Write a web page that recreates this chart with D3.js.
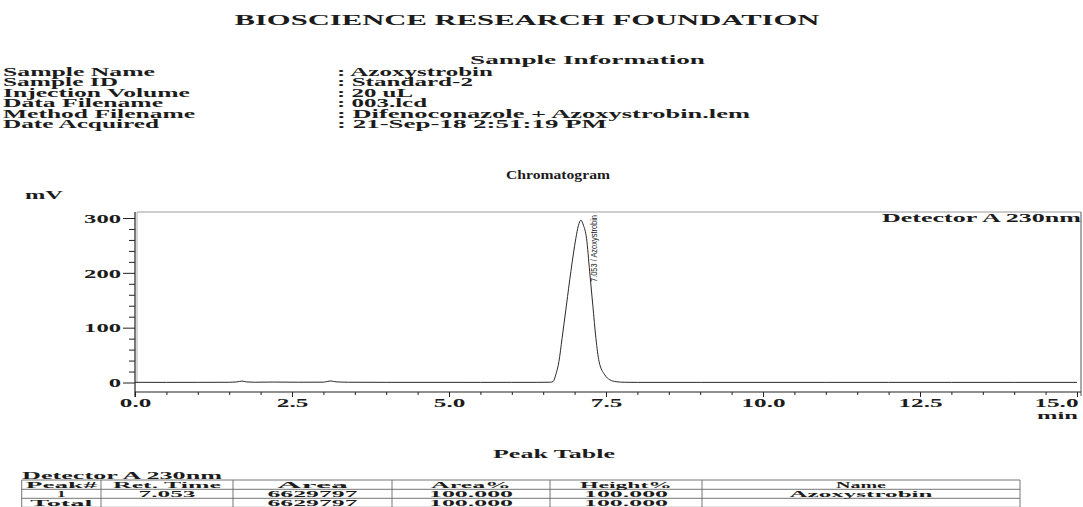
<!DOCTYPE html>
<html lang="en">
<head>
<meta charset="UTF-8">
<title>Chromatogram - Azoxystrobin Standard-2</title>
<script src="https://d3js.org/d3.v7.min.js"></script>
<style>
  body { margin: 0; background: #fff; }
  svg { display: block; }
  text { font-family: "Liberation Serif", "Times New Roman", serif; font-weight: bold; fill: #1c1c1c; }
  .peak-label { font-family: "Liberation Sans Narrow", "Liberation Sans", Arial, sans-serif; font-weight: normal; }
  .axis path { display: none; }
  .axis line { stroke: #222; }
</style>
</head>
<body>
<svg width="1083" height="507"></svg>
<script>
// sample information block
const infoLabels = ["Sample Name", "Sample ID", "Injection Volume", "Data Filename", "Method Filename", "Date Acquired"];
const infoValues = ["Azoxystrobin", "Standard-2", "20 uL", "003.lcd", "Difenoconazole + Azoxystrobin.lem", "21-Sep-18 2:51:19 PM"];

// trace: retention time (min) and signal (mV)
const retTime = [0.0, 0.5, 1.0, 1.5, 1.62, 1.70, 1.78, 1.9, 2.2, 2.6, 3.0, 3.06, 3.12, 3.2, 3.4, 4.0, 5.0, 5.5, 6.0, 6.4,
                 6.62, 6.66, 6.70, 6.75, 6.80, 6.87, 6.94, 7.02, 7.06, 7.10, 7.14, 7.19, 7.24, 7.29, 7.34, 7.39, 7.48, 7.56, 7.66, 7.80,
                 8.0, 9.0, 10.0, 11.0, 12.0, 13.0, 14.0, 15.0];
const signal  = [0.3, 0.2, 0.3, 0.4, 1.0, 2.6, 1.0, 0.5, 0.8, 0.5, 0.6, 1.8, 2.8, 1.2, 0.5, 0.3, 0.3, 0.2, 0.3, 0.3,
                 0.5, 2, 14, 38, 80, 141, 202, 263, 286, 296, 287, 263, 202, 141, 80, 38, 14, 5, 1.5, 0.4,
                 0.2, 0.2, 0.2, 0.2, 0.2, 0.2, 0.2, 0.2];

const yTicks = [0, 100, 200, 300];
const xTicks = [0, 2.5, 5, 7.5, 10, 12.5, 15];
const peakLabel = "7.053 / Azoxystrobin";

// peak table
const tableTitle = "Detector A 230nm";
const tableHeader = ["Peak#", "Ret. Time", "Area", "Area%", "Height%", "Name"];
const tableRows = [
  ["1", "7.053", "6629797", "100.000", "100.000", "Azoxystrobin"],
  ["Total", "", "6629797", "100.000", "100.000", ""]
];

const svg = d3.select("svg");

// the scanned print is stretched sideways, so text is widened to fit
function fitTo(sel, w) {
  sel.attr("textLength", w).attr("lengthAdjust", "spacingAndGlyphs");
}
function stretch(sel, k) {
  sel.each(function() {
    const w = this.getComputedTextLength();
    this.setAttribute("textLength", w * k);
    this.setAttribute("lengthAdjust", "spacingAndGlyphs");
  });
}

// header
svg.append("text").attr("x", 527).attr("y", 25).attr("text-anchor", "middle")
  .style("font-size", "15px").text("BIOSCIENCE RESEARCH FOUNDATION").call(fitTo, 585);

svg.append("text").attr("x", 470).attr("y", 64).style("font-size", "12px")
  .text("Sample Information").call(fitTo, 235);

const labelW = [152, 115, 187, 160, 192, 156];
const valueW = [156, 136, 76, 90, 413, 270];
infoLabels.forEach((d, i) => {
  const yy = 76 + i * 10.4;
  svg.append("text").attr("x", 3).attr("y", yy).style("font-size", "11.5px").text(d).call(fitTo, labelW[i]);
  svg.append("text").attr("x", 337).attr("y", yy).style("font-size", "11.5px").text(": " + infoValues[i]).call(fitTo, valueW[i]);
});

// chromatogram
svg.append("text").attr("x", 558).attr("y", 179).attr("text-anchor", "middle")
  .style("font-size", "12px").text("Chromatogram").call(fitTo, 104);

const x = d3.scaleLinear().domain([0, 15]).range([135, 1077]);
const y = d3.scaleLinear().domain([0, 300]).range([382.5, 218]);

const frameTop = 212, axisY = 392;

// frame
svg.append("line").attr("x1", 137).attr("x2", 1081).attr("y1", frameTop).attr("y2", frameTop)
  .attr("stroke", "#9a9a9a");
svg.append("line").attr("x1", 137).attr("x2", 137).attr("y1", frameTop).attr("y2", 383)
  .attr("stroke", "#b0b0b0");
svg.append("line").attr("x1", 1081).attr("x2", 1081).attr("y1", frameTop).attr("y2", 396)
  .attr("stroke", "#555");

// y axis
svg.append("line").attr("x1", 135).attr("x2", 135).attr("y1", frameTop).attr("y2", 397)
  .attr("stroke", "#222").attr("stroke-width", 1.2);
const yMinor = d3.range(20, 300, 20).filter(v => v % 100 !== 0);
svg.append("g").attr("class", "axis").attr("transform", "translate(135,0)")
  .call(d3.axisLeft(y).tickValues(yMinor).tickSize(6).tickFormat(""));
const gy = svg.append("g").attr("class", "axis").attr("transform", "translate(135,0)")
  .call(d3.axisLeft(y).tickValues(yTicks).tickSize(12).tickPadding(2).tickFormat(d3.format("d")));
gy.selectAll("text").attr("font-family", null).style("font-size", "12px").attr("fill", "#1c1c1c")
  .attr("dy", "0.35em").call(stretch, 2.05);

svg.append("text").attr("x", 25).attr("y", 199).style("font-size", "12px").text("mV").call(fitTo, 38);

// x axis
svg.append("line").attr("x1", 135).attr("x2", 1081).attr("y1", axisY).attr("y2", axisY)
  .attr("stroke", "#222").attr("stroke-width", 1.2);
const xMinor = d3.range(0.5, 15, 0.5).filter(v => v % 2.5 !== 0);
svg.append("g").attr("class", "axis").attr("transform", `translate(0,${axisY})`)
  .call(d3.axisBottom(x).tickValues(xMinor).tickSize(3).tickFormat(""));
const gx = svg.append("g").attr("class", "axis").attr("transform", `translate(0,${axisY})`)
  .call(d3.axisBottom(x).tickValues(xTicks).tickSize(5).tickFormat(d3.format(".1f")));
gx.selectAll("text").attr("font-family", null).style("font-size", "12px").attr("fill", "#1c1c1c")
  .attr("y", 15).attr("dy", 0).call(stretch, 2.1);
gx.selectAll(".tick").filter(d => d === 15).select("text").attr("text-anchor", "end").attr("x", 1);

svg.append("text").attr("x", 1078).attr("y", 419).attr("text-anchor", "end")
  .style("font-size", "10.5px").text("min").call(fitTo, 41);

// trace
const pts = retTime.map((t, i) => [t, signal[i]]);
svg.append("path").datum(pts)
  .attr("fill", "none").attr("stroke", "#2a2a2a").attr("stroke-width", 1)
  .attr("d", d3.line().x(d => x(d[0])).y(d => y(d[1])).curve(d3.curveMonotoneX));

// peak annotation
svg.append("text").attr("class", "peak-label")
  .attr("transform", `translate(${x(7.10) + 16},282) rotate(-90)`)
  .style("font-size", "9px").text(peakLabel).call(fitTo, 67);

svg.append("text").attr("x", 1081).attr("y", 222).attr("text-anchor", "end")
  .style("font-size", "12.5px").text("Detector A 230nm").call(fitTo, 199);

// peak table
svg.append("text").attr("x", 554).attr("y", 458).attr("text-anchor", "middle")
  .style("font-size", "12px").text("Peak Table").call(fitTo, 122);
svg.append("text").attr("x", 22).attr("y", 478.5).style("font-size", "11px")
  .text(tableTitle).call(fitTo, 200);

const cols = [21.7, 101, 233, 392, 550, 702, 1020];
const rowLines = [480, 489.3, 498.3, 507.3];
const cellW = {
  "Peak#": 71, "Ret. Time": 108, "Area": 71, "Area%": 80, "Height%": 92, "Name": 50,
  "1": 9, "7.053": 57, "6629797": 90, "100.000": 84, "Azoxystrobin": 143, "Total": 62
};

rowLines.forEach(ly => {
  svg.append("line").attr("x1", cols[0]).attr("x2", cols[cols.length - 1]).attr("y1", ly).attr("y2", ly)
    .attr("stroke", "#666").attr("stroke-width", 0.9);
});
cols.forEach(cx => {
  svg.append("line").attr("x1", cx).attr("x2", cx).attr("y1", rowLines[0]).attr("y2", 507)
    .attr("stroke", "#666").attr("stroke-width", 0.9);
});

[tableHeader, ...tableRows].forEach((row, r) => {
  row.forEach((cell, c) => {
    if (!cell) return;
    svg.append("text")
      .attr("x", (cols[c] + cols[c + 1]) / 2)
      .attr("y", 487.5 + r * 9.1)
      .attr("text-anchor", "middle")
      .style("font-size", "9px")
      .text(cell)
      .call(fitTo, cellW[cell]);
  });
});
</script>
</body>
</html>
